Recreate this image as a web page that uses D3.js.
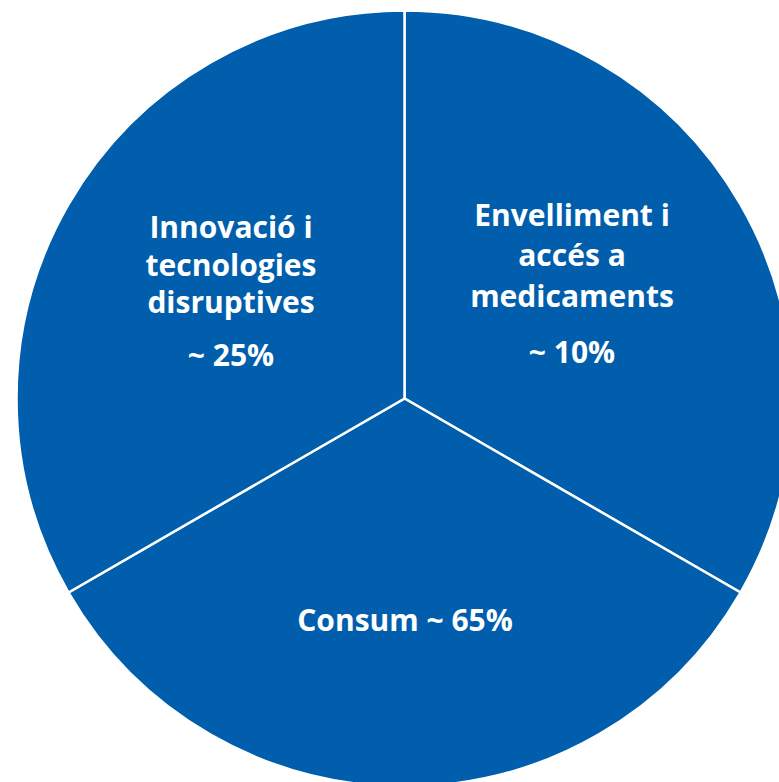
<!DOCTYPE html>
<html><head><meta charset="utf-8">
<script src="https://cdn.jsdelivr.net/npm/d3@7"></script>
<style>html,body{margin:0;padding:0;background:#fff;overflow:hidden}</style>
</head><body>
<svg id="c" width="779" height="782"></svg>
<script>
const categories = ["Envelliment i accés a medicaments", "Consum", "Innovació i tecnologies disruptives"];
const sliceValues = [1, 1, 1];
const labelLines = [
  ["Envelliment i", "accés a", "medicaments"],
  ["Consum ~ 65%"],
  ["Innovació i", "tecnologies", "disruptives"]
];
const shareLabels = ["~ 10%", "", "~ 25%"];

const svg = d3.select("#c");
const cx = 404.5, cy = 398.5, r = 388;
const g = svg.append("g").attr("transform", `translate(${cx},${cy})`);
const pie = d3.pie().sort(null).value(d => d)(sliceValues);
const arc = d3.arc().innerRadius(0).outerRadius(r);
g.selectAll("path").data(pie).join("path")
  .attr("d", arc).attr("fill", "#005EAC")
  .attr("stroke", "#fff").attr("stroke-width", 2.5);

const fs = 30;
const font = "'Open Sans', sans-serif";
const layouts = [
  {x: 572 - cx, y: [226, 266, 307], p: 363},
  {x: 405 - cx, y: [631], p: null},
  {x: 231 - cx, y: [238, 276, 313], p: 366}
];
labelLines.forEach((lines, i) => {
  const L = layouts[i];
  lines.forEach((t, j) => {
    g.append("text").attr("x", L.x).attr("y", L.y[j] - cy)
      .attr("text-anchor", "middle").attr("fill", "#fff")
      .attr("font-family", font).attr("font-weight", 700).attr("font-size", fs)
      .text(t);
  });
  if (shareLabels[i]) {
    g.append("text").attr("x", L.x).attr("y", L.p - cy)
      .attr("text-anchor", "middle").attr("fill", "#fff")
      .attr("font-family", font).attr("font-weight", 700).attr("font-size", fs)
      .text(shareLabels[i]);
  }
});
</script>
</body></html>
